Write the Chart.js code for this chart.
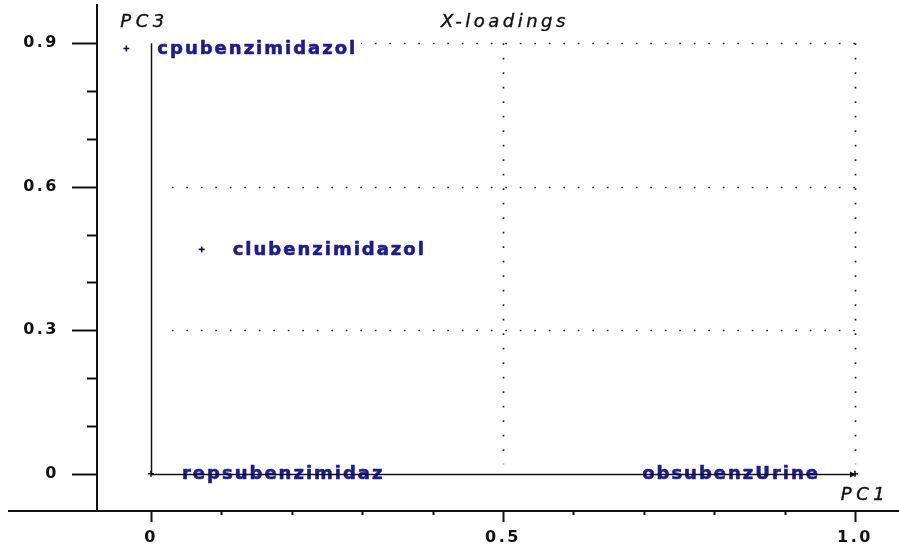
<!DOCTYPE html>
<html>
<head>
<meta charset="utf-8">
<script src="https://cdn.jsdelivr.net/npm/chart.js@4.4.1/dist/chart.umd.min.js"></script>
<style>
  html, body { margin: 0; padding: 0; background: #fff; }
  #wrap { width: 899px; height: 550px; position: relative; }
</style>
</head>
<body>
<div id="wrap"><canvas id="c" width="899" height="550"></canvas></div>
<script>
// ---- data ----
const categories = ['cpubenzimidazol', 'clubenzimidazol', 'repsubenzimidaz', 'obsubenzUrine'];
const pc1 = [-0.035, 0.072, 0.0, 1.0];
const pc3 = [0.889, 0.469, 0.0, 0.0];
const labelSide = ['right', 'right', 'right', 'left'];

const xMajor = [0, 0.5, 1.0];
const xMajorLabels = ['0', '0.5', '1.0'];
const xMinor = [0.1, 0.2, 0.3, 0.4, 0.6, 0.7, 0.8, 0.9];
const yMajor = [0, 0.3, 0.6, 0.9];
const yMajorLabels = ['0', '0.3', '0.6', '0.9'];
const yMinor = [0.1, 0.2, 0.4, 0.5, 0.7, 0.8];

const gridX = [0.5, 1.0];
const gridY = [0.3, 0.6, 0.9];

const titleText = 'X-loadings';
const xAxisName = 'PC1';
const yAxisName = 'PC3';

// ---- drawing helpers ----
const LABEL_BLUE = '#1b1b95';

const overlay = {
  id: 'overlay',
  beforeDraw(chart) {
    chart.ctx.letterSpacing = '2.5px';
  },
  beforeDatasetsDraw(chart) {
    const ctx = chart.ctx;
    const xs = chart.scales.x, ys = chart.scales.y;
    const ca = chart.chartArea;
    ctx.save();
    ctx.letterSpacing = '0px';
    // outer axis extension & tick marks
    ctx.strokeStyle = '#111';
    ctx.lineWidth = 2;
    ctx.beginPath();
    ctx.moveTo(8, ca.bottom);
    ctx.lineTo(ca.left, ca.bottom);
    ctx.stroke();
    yMajor.forEach(v => {
      const y = Math.round(ys.getPixelForValue(v)) + 0.5;
      ctx.beginPath(); ctx.moveTo(ca.left - 25, y); ctx.lineTo(ca.left, y); ctx.stroke();
    });
    yMinor.forEach(v => {
      const y = Math.round(ys.getPixelForValue(v)) + 0.5;
      ctx.beginPath(); ctx.moveTo(ca.left - 10, y); ctx.lineTo(ca.left, y); ctx.stroke();
    });
    xMajor.forEach(v => {
      const x = Math.round(xs.getPixelForValue(v)) + 0.5;
      ctx.beginPath(); ctx.moveTo(x, ca.bottom); ctx.lineTo(x, ca.bottom + 11); ctx.stroke();
    });
    xMinor.forEach(v => {
      const x = Math.round(xs.getPixelForValue(v)) + 0.5;
      ctx.beginPath(); ctx.moveTo(x, ca.bottom); ctx.lineTo(x, ca.bottom + 4); ctx.stroke();
    });

    // dotted grid
    ctx.strokeStyle = '#222';
    ctx.lineWidth = 1.7;
    ctx.setLineDash([1.7, 12.8]);
    const gx0 = xs.getPixelForValue(0.015), gx1 = xs.getPixelForValue(1.0);
    const gy0 = ys.getPixelForValue(0.02), gy1 = ys.getPixelForValue(0.9);
    gridY.forEach(v => {
      const y = Math.round(ys.getPixelForValue(v)) + 0.5;
      ctx.beginPath(); ctx.moveTo(gx1, y); ctx.lineTo(gx0, y); ctx.stroke();
    });
    gridX.forEach(v => {
      const x = Math.round(xs.getPixelForValue(v)) + 0.5;
      ctx.beginPath(); ctx.moveTo(x, gy1); ctx.lineTo(x, gy0); ctx.stroke();
    });
    ctx.setLineDash([]);

    // point labels with white boxes
    ctx.font = 'bold 18px "DejaVu Sans"';
    ctx.letterSpacing = '2px';
    ctx.textBaseline = 'middle';
    ctx.lineWidth = 0.6;
    categories.forEach((name, i) => {
      const px = xs.getPixelForValue(pc1[i]);
      const py = ys.getPixelForValue(pc3[i]);
      const w = ctx.measureText(name).width;
      let x0;
      if (labelSide[i] === 'right') x0 = px + 31; else x0 = px - 35 - w;
      ctx.fillStyle = '#fff';
      ctx.fillRect(x0 - 6, py - 10, w + 10, 20);
      ctx.fillStyle = LABEL_BLUE;
      ctx.strokeStyle = LABEL_BLUE;
      ctx.textAlign = 'left';
      ctx.fillText(name, x0, py + 1);
      ctx.strokeText(name, x0, py + 1);
    });

    // inner axes
    ctx.letterSpacing = '0px';
    const ox = Math.round(xs.getPixelForValue(0)) + 0.5;
    const oy = Math.round(ys.getPixelForValue(0)) + 0.5;
    const topY = ys.getPixelForValue(0.9);
    const endX = xs.getPixelForValue(1.0);
    ctx.strokeStyle = '#111';
    ctx.lineWidth = 1.5;
    ctx.beginPath();
    ctx.moveTo(ox, topY); ctx.lineTo(ox, oy); ctx.lineTo(endX, oy);
    ctx.stroke();
    ctx.fillStyle = '#111';
    ctx.beginPath();
    ctx.moveTo(endX + 1, oy);
    ctx.lineTo(endX - 5, oy - 3);
    ctx.lineTo(endX - 5, oy + 3);
    ctx.closePath();
    ctx.fill();

    // titles
    ctx.fillStyle = '#111';
    ctx.strokeStyle = '#111';
    ctx.lineWidth = 0.4;
    ctx.textBaseline = 'middle';
    ctx.textAlign = 'center';
    ctx.font = 'italic 18px "DejaVu Sans"';
    ctx.letterSpacing = '3.5px';
    const tx = xs.getPixelForValue(0.5) + 2;
    ctx.fillText(titleText, tx, 22); ctx.strokeText(titleText, tx, 22);
    ctx.letterSpacing = '4.5px';
    ctx.fillText(yAxisName, ox - 7, 22); ctx.strokeText(yAxisName, ox - 7, 22);
    ctx.fillText(xAxisName, endX + 10, 495); ctx.strokeText(xAxisName, endX + 10, 495);
    ctx.restore();
  },
  afterDraw(chart) {
    chart.ctx.letterSpacing = '0px';
  }
};

const points = pc1.map((x, i) => ({ x: x, y: pc3[i] }));

function zeroPad(s) {
  s.paddingTop = 0; s.paddingBottom = 0; s.paddingLeft = 0; s.paddingRight = 0;
}

new Chart(document.getElementById('c'), {
  type: 'scatter',
  data: {
    datasets: [{
      label: 'X-loadings',
      data: points,
      pointStyle: 'cross',
      pointRadius: 3,
      pointBorderWidth: 1.6,
      borderColor: '#0d0d40',
      backgroundColor: '#0d0d40'
    }]
  },
  options: {
    responsive: false,
    animation: false,
    devicePixelRatio: 1,
    layout: { padding: { top: 5, right: 0, left: 0, bottom: 0 }, autoPadding: false },
    plugins: {
      legend: { display: false },
      title: { display: false },
      tooltip: { enabled: false }
    },
    scales: {
      x: {
        type: 'linear',
        min: -0.0767,
        max: 1.0625,
        afterBuildTicks: s => { s.ticks = xMajor.map(v => ({ value: v })); },
        afterFit: s => { s.height = 39; zeroPad(s); },
        grid: { display: false, drawTicks: true, tickLength: 17 },
        border: { display: true, color: '#111', width: 2 },
        ticks: {
          autoSkip: false,
          maxRotation: 0,
          padding: 0,
          color: '#111',
          font: { family: 'DejaVu Sans', weight: 'bold', size: 16 },
          callback: (v, i) => xMajorLabels[i]
        }
      },
      y: {
        type: 'linear',
        min: -0.078,
        max: 0.98,
        afterBuildTicks: s => { s.ticks = yMajor.map(v => ({ value: v })); },
        afterFit: s => { s.width = 97; zeroPad(s); },
        grid: { display: false, drawTicks: true, tickLength: 38 },
        border: { display: true, color: '#111', width: 2 },
        ticks: {
          autoSkip: false,
          padding: 0,
          color: '#111',
          font: { family: 'DejaVu Sans', weight: 'bold', size: 16 },
          callback: (v, i) => yMajorLabels[i]
        }
      }
    }
  },
  plugins: [overlay]
});
</script>
</body>
</html>
